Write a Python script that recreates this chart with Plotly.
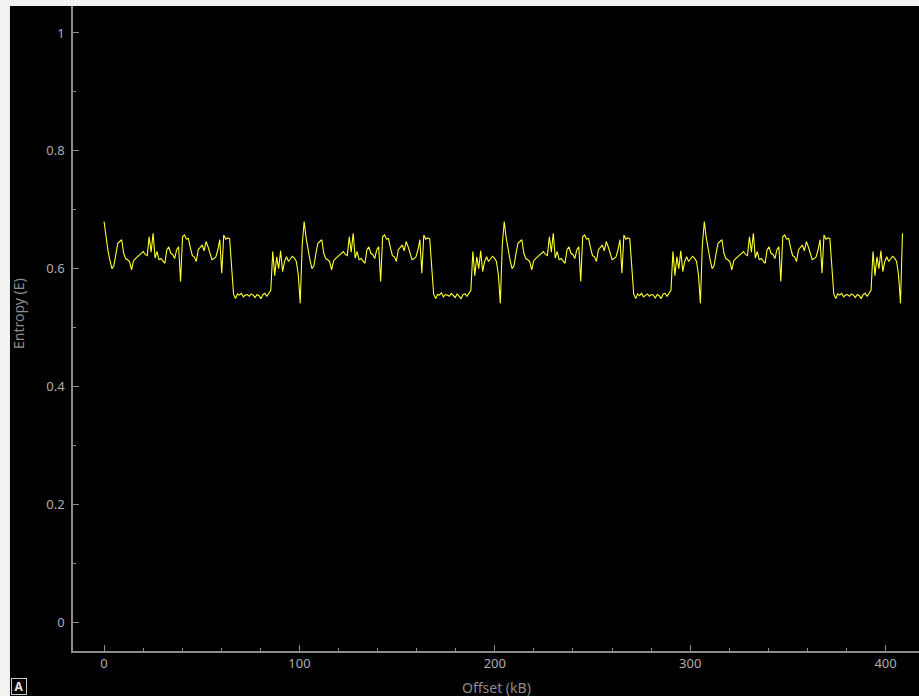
import plotly.graph_objects as go

# Entropy per block, block size in kB
BLOCK_KB = 1.004

seg1 = [0.680, 0.652, 0.630, 0.614, 0.600, 0.605, 0.626, 0.643, 0.646, 0.649,
        0.626, 0.617, 0.615, 0.612, 0.598, 0.613, 0.617, 0.620, 0.624, 0.626,
        0.629, 0.624, 0.622, 0.654, 0.628, 0.660, 0.618, 0.629, 0.615, 0.617,
        0.612, 0.609, 0.632, 0.637, 0.626, 0.624, 0.617, 0.632, 0.637, 0.578,
        0.654, 0.657, 0.650, 0.651, 0.635, 0.622, 0.620, 0.612, 0.632, 0.637,
        0.640, 0.630, 0.646, 0.637, 0.625, 0.615, 0.617, 0.620, 0.632, 0.649,
        0.592, 0.657, 0.650, 0.652, 0.651, 0.605, 0.557, 0.549, 0.557, 0.555,
        0.558, 0.552, 0.555, 0.556, 0.553, 0.557, 0.555, 0.551, 0.556, 0.554,
        0.549, 0.556, 0.558, 0.553, 0.559, 0.563, 0.629, 0.588, 0.620, 0.600,
        0.630, 0.595, 0.612, 0.620, 0.612, 0.617, 0.621, 0.618, 0.612, 0.590,
        0.541, 0.640]

seg2 = [0.680, 0.652, 0.630, 0.614, 0.600, 0.605, 0.626, 0.643, 0.646, 0.649,
        0.626, 0.617, 0.615, 0.612, 0.598, 0.613, 0.617, 0.620, 0.624, 0.626,
        0.629, 0.624, 0.622, 0.654, 0.628, 0.660, 0.618, 0.629, 0.615, 0.617,
        0.612, 0.609, 0.632, 0.637, 0.626, 0.624, 0.617, 0.632, 0.637, 0.578,
        0.654, 0.657, 0.650, 0.651, 0.635, 0.622, 0.620, 0.612, 0.632, 0.637,
        0.640, 0.630, 0.646, 0.637, 0.625, 0.615, 0.617, 0.620, 0.632, 0.649,
        0.592, 0.657, 0.650, 0.652, 0.651, 0.605, 0.557, 0.549, 0.556, 0.555,
        0.559, 0.552, 0.556, 0.555, 0.553, 0.558, 0.554, 0.551, 0.557, 0.553,
        0.549, 0.556, 0.557, 0.553, 0.559, 0.563, 0.629, 0.588, 0.620, 0.600,
        0.630, 0.595, 0.612, 0.620, 0.612, 0.617, 0.621, 0.618, 0.612, 0.590,
        0.541, 0.640]

seg3 = [0.680, 0.652, 0.630, 0.614, 0.600, 0.605, 0.626, 0.643, 0.646, 0.649,
        0.626, 0.617, 0.615, 0.612, 0.598, 0.613, 0.617, 0.620, 0.624, 0.626,
        0.629, 0.624, 0.622, 0.654, 0.628, 0.660, 0.618, 0.629, 0.615, 0.617,
        0.612, 0.609, 0.632, 0.637, 0.626, 0.624, 0.617, 0.632, 0.637, 0.578,
        0.654, 0.657, 0.650, 0.651, 0.635, 0.622, 0.620, 0.612, 0.632, 0.637,
        0.640, 0.630, 0.646, 0.637, 0.625, 0.615, 0.617, 0.620, 0.632, 0.649,
        0.592, 0.657, 0.650, 0.652, 0.651, 0.605, 0.557, 0.549, 0.557, 0.554,
        0.558, 0.552, 0.555, 0.557, 0.553, 0.556, 0.555, 0.550, 0.556, 0.554,
        0.549, 0.557, 0.558, 0.553, 0.558, 0.563, 0.629, 0.588, 0.620, 0.600,
        0.630, 0.595, 0.612, 0.620, 0.612, 0.617, 0.621, 0.618, 0.612, 0.590,
        0.541, 0.640]

seg4 = [0.680, 0.652, 0.630, 0.614, 0.600, 0.605, 0.626, 0.643, 0.646, 0.649,
        0.626, 0.617, 0.615, 0.612, 0.598, 0.613, 0.617, 0.620, 0.624, 0.626,
        0.629, 0.624, 0.622, 0.654, 0.628, 0.660, 0.618, 0.629, 0.615, 0.617,
        0.612, 0.609, 0.632, 0.637, 0.626, 0.624, 0.617, 0.632, 0.637, 0.578,
        0.654, 0.657, 0.650, 0.651, 0.635, 0.622, 0.620, 0.612, 0.632, 0.637,
        0.640, 0.630, 0.646, 0.637, 0.625, 0.615, 0.617, 0.620, 0.632, 0.649,
        0.592, 0.657, 0.650, 0.652, 0.651, 0.605, 0.557, 0.549, 0.557, 0.555,
        0.558, 0.552, 0.555, 0.556, 0.553, 0.557, 0.555, 0.551, 0.556, 0.554,
        0.549, 0.556, 0.558, 0.553, 0.559, 0.563, 0.629, 0.588, 0.620, 0.600,
        0.630, 0.595, 0.612, 0.620, 0.612, 0.617, 0.621, 0.618, 0.612, 0.590,
        0.541, 0.660]

entropy = seg1 + seg2 + seg3 + seg4
offset_kb = [i * BLOCK_KB for i in range(len(entropy))]

x_ticks = [0, 100, 200, 300, 400]
y_ticks = [0, 0.2, 0.4, 0.6, 0.8, 1]
y_tick_labels = ["0", "0.2", "0.4", "0.6", "0.8", "1"]

FONT = "Noto Sans"
AXIS_COLOR = "#8c8c8c"
TICK_FONT = dict(family=FONT, size=13, color="#adadad")

fig = go.Figure()
fig.add_trace(go.Scatter(
    x=offset_kb, y=entropy, mode="lines",
    line=dict(color="#ffff2e", width=1.1),
    hoverinfo="x+y", showlegend=False,
))

fig.update_layout(
    width=919, height=696,
    margin=dict(l=73, r=0, t=6, b=45),
    paper_bgcolor="#000000",
    plot_bgcolor="#000000",
    font=dict(family=FONT, color="#adadad"),
    xaxis=dict(
        range=[-15.9, 417.1], tickvals=x_ticks, ticktext=[str(v) for v in x_ticks],
        showgrid=False, zeroline=False, showline=True, linecolor=AXIS_COLOR, linewidth=1.5,
        ticks="inside", ticklen=6, tickcolor=AXIS_COLOR, tickfont=TICK_FONT,
        minor=dict(dtick=20, tick0=0, ticks="inside", ticklen=3, tickcolor=AXIS_COLOR, showgrid=False),
    ),
    yaxis=dict(
        range=[-0.0492, 1.0458], tickvals=y_ticks, ticktext=y_tick_labels,
        showgrid=False, zeroline=False, showline=True, linecolor=AXIS_COLOR, linewidth=1.5,
        ticks="inside", ticklen=6, tickcolor=AXIS_COLOR, tickfont=TICK_FONT,
        ticklabelstandoff=4,
        minor=dict(dtick=0.1, tick0=0, ticks="inside", ticklen=3, tickcolor=AXIS_COLOR, showgrid=False),
    ),
    shapes=[
        dict(type="rect", xref="paper", yref="paper", x0=-0.09, x1=-0.0745, y0=-0.08, y1=1.02,
             fillcolor="#f2f2f2", line=dict(width=0), layer="above"),
        dict(type="rect", xref="paper", yref="paper", x0=-0.09, x1=1.01, y0=1.0, y1=1.02,
             fillcolor="#f2f2f2", line=dict(width=0), layer="above"),
    ],
    annotations=[
        dict(text="Offset (kB)", xref="paper", yref="paper", x=(497 - 73) / 846, y=(651 - 687) / 645,
             xanchor="center", yanchor="middle", showarrow=False,
             font=dict(family=FONT, size=14, color="#8c8c8c")),
        dict(text="Entropy (E)", xref="paper", yref="paper", x=(18 - 73) / 846, y=(651 - 314) / 645,
             xanchor="center", yanchor="middle", textangle=-90, showarrow=False,
             font=dict(family=FONT, size=14, color="#8c8c8c")),
        dict(text="<b>A</b>", xref="paper", yref="paper", x=(19 - 73) / 846, y=(651 - 686) / 645,
             xanchor="center", yanchor="middle", showarrow=False,
             bordercolor="#c8c8c8", borderwidth=1, borderpad=1, width=12, height=13,
             font=dict(family=FONT, size=12, color="#e0e0e0")),
    ],
)

fig.write_html(
    "out.html",
    config={"displayModeBar": False},
    post_script="document.body.style.margin='0';document.body.style.background='#f2f2f2';",
)
